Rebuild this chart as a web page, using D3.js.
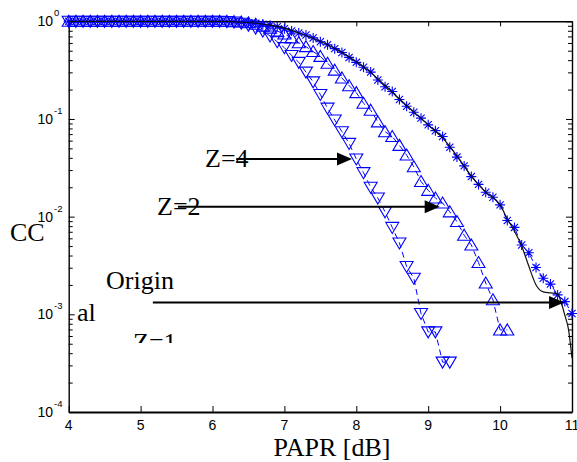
<!DOCTYPE html>
<html><head><meta charset="utf-8">
<script src="https://cdn.jsdelivr.net/npm/d3@7"></script>
<style>html,body{margin:0;padding:0;background:#fff;}svg{display:block;}</style>
</head><body>
<svg id="c" width="577" height="462"></svg>
<script>
// ---- data ----
const papr = [4.0,4.1,4.2,4.3,4.4,4.5,4.6,4.7,4.8,4.9,5.0,5.1,5.2,5.3,5.4,5.5,5.6,5.7,5.8,5.9,6.0,6.1,6.2,6.3,6.4,6.5,6.6,6.7,6.8,6.9,7.0,7.1,7.2,7.3,7.4,7.5,7.6,7.7,7.8,7.9,8.0,8.1,8.2,8.3,8.4,8.5,8.6,8.7,8.8,8.9,9.0,9.1,9.2,9.3,9.4,9.5,9.6,9.7,9.8,9.9,10.0,10.1,10.2,10.3,10.4,10.5,10.6,10.7,10.8,10.9,11.0];
const ccdfOrigin = [1,1,1,1,1,1,1,1,1,1,1,1,1,1,1,1,1,1,1,1,1,1,
  0.995,0.989,0.977,0.966,0.955,0.933,0.912,0.881,0.841,0.794,0.759,0.724,0.676,0.617,0.575,0.525,0.479,0.427,0.380,0.339,0.302,0.251,0.214,0.191,0.158,0.135,0.117,0.102,0.0871,0.0759,0.0661,0.0513,0.0407,0.0331,0.0257,0.0214,0.0178,0.0158,0.0132,0.00912,0.00776,0.00513,0.00427,0.00302,0.00234,0.00204,0.00158,0.00135,0.00102];
const ccdfZ2 = [1,1,1,1,1,1,1,1,1,1,1,1,1,1,1,1,1,1,1,1,1,1,1,
  0.991,0.982,0.966,0.933,0.891,0.851,0.794,0.741,0.676,0.603,0.550,0.490,0.437,0.372,0.316,0.263,0.219,0.186,0.145,0.123,0.0933,0.0741,0.0661,0.0537,0.0427,0.0324,0.0229,0.0186,0.0155,0.0138,0.0112,0.00891,0.00646,0.00513,0.00339,0.00209,0.00141,0.000692,0.000692];
const ccdfZ4 = [1,1,1,1,1,1,1,1,1,1,1,1,1,1,1,1,1,1,1,1,1,1,
  0.993,0.982,0.955,0.912,0.851,0.794,0.708,0.617,0.537,0.447,0.380,0.302,0.240,0.178,0.129,0.0977,0.0741,0.0562,0.0389,0.0282,0.0200,0.0155,0.0112,0.00776,0.00537,0.00309,0.00234,0.00102,0.000661,0.000661,0.000324,0.000324];
const theoryX = [4.0,5.0,6.0,6.2,6.4,6.6,6.8,7.0,7.2,7.4,7.6,7.8,8.0,8.2,8.4,8.6,8.8,9.0,9.2,9.4,9.6,9.8,10.0,10.1,10.2,10.3,10.4,10.5,10.6,10.7,10.8,10.85,10.9,10.95,11.0];
const theoryY = [1,1,1,0.997,0.98,0.955,0.912,0.85,0.76,0.67,0.575,0.48,0.385,0.30,0.22,0.16,0.118,0.087,0.064,0.042,0.026,0.0178,0.0132,0.0095,0.0071,0.00501,0.00310,0.00200,0.0017,0.00166,0.00162,0.00132,0.00098,0.00071,0.000355];
const xTicks = [4,5,6,7,8,9,10,11];
const yExps = [0,-1,-2,-3,-4];
const xTitle = "PAPR [dB]";
const annoLabels = ["Z=4","Z=2","Origin"];
const annoStartX = [6.33,5.52,5.17];
const annoEndX = [7.94,9.16,10.89];
const annoY = [0.039,0.0126,0.00132];

// ---- layout ----
const svg = d3.select("#c");
const x = d3.scaleLinear().domain([4,11]).range([68.7,572]);
const y = d3.scaleLog().domain([1e-4,1]).range([412,21.3]);
const blue = "#0000ff";

const majorY = yExps.map(e => Math.pow(10,e));
const minorY = y.ticks().filter(v => !majorY.some(m => Math.abs(m-v)/v < 1e-6));
function styleAxis(g, w){ g.selectAll("path.domain").attr("stroke","#000").attr("stroke-width",w); g.selectAll("line").attr("stroke","#000").attr("stroke-width",1); g.selectAll("text").remove(); }
svg.append("g").attr("transform","translate(0,412)").call(d3.axisBottom(x).tickValues(xTicks).tickSize(-6).tickSizeOuter(0)).call(g=>styleAxis(g,2));
svg.append("g").attr("transform","translate(0,21.3)").call(d3.axisTop(x).tickValues(xTicks).tickSize(-5).tickSizeOuter(0)).call(g=>styleAxis(g,1.6));
svg.append("g").attr("transform","translate(68.7,0)").call(d3.axisLeft(y).tickValues(majorY).tickSize(-6).tickSizeOuter(0)).call(g=>styleAxis(g,1.4));
svg.append("g").attr("transform","translate(68.7,0)").call(d3.axisLeft(y).tickValues(minorY).tickSize(-4).tickSizeOuter(0)).call(g=>{styleAxis(g,1.4); g.select("path.domain").remove();});
svg.append("g").attr("transform","translate(572,0)").call(d3.axisRight(y).tickValues(majorY).tickSize(-6).tickSizeOuter(0)).call(g=>styleAxis(g,1.4));
svg.append("g").attr("transform","translate(572,0)").call(d3.axisRight(y).tickValues(minorY).tickSize(-4).tickSizeOuter(0)).call(g=>{styleAxis(g,1.4); g.select("path.domain").remove();});

// tick labels
const sans = "Liberation Sans, Arial, sans-serif";
svg.append("g").selectAll("text").data(xTicks).join("text")
  .attr("x",d=>x(d)).attr("y",430).attr("text-anchor","middle")
  .attr("font-family",sans).attr("font-size",14).text(d=>d);
const yl = svg.append("g").selectAll("g").data(yExps).join("g")
  .attr("transform",d=>`translate(53,${y(Math.pow(10,d))+5})`);
yl.append("text").attr("text-anchor","end").attr("font-family",sans).attr("font-size",14).text("10");
yl.append("text").attr("x",1).attr("y",-10).attr("font-family",sans).attr("font-size",9.5).text(d=>String(d));

// series
function series(vals, marker){
  const pts = vals.map((v,i)=>[papr[i],v]);
  svg.append("path").datum(pts).attr("fill","none").attr("stroke",blue).attr("stroke-width",1)
    .attr("stroke-dasharray","6,4").attr("d",d3.line().x(d=>x(d[0])).y(d=>y(d[1])));
  svg.append("g").selectAll("path").data(pts).join("path")
    .attr("transform",d=>`translate(${x(d[0])},${y(d[1])})`)
    .attr("d",marker).attr("fill","none").attr("stroke",blue).attr("stroke-width",1.1);
}
const triUp = "M0,-6L6.5,5L-6.5,5Z";
const triDown = "M0,6L6.5,-5L-6.5,-5Z";
const star = "M-5,0H5M0,-5V5M-3.6,-3.6L3.6,3.6M-3.6,3.6L3.6,-3.6";
series(ccdfZ4, triDown);
series(ccdfZ2, triUp);
series(ccdfOrigin, star);

// theory line
svg.append("path").datum(theoryX.map((v,i)=>[v,theoryY[i]])).attr("fill","none").attr("stroke","#111").attr("stroke-width",1.2)
  .attr("d",d3.line().curve(d3.curveMonotoneX).x(d=>x(d[0])).y(d=>y(d[1])));

// annotations
const serif = "Liberation Serif, Times New Roman, serif";
const textPos = [[205,167],[157,215],[106,289]];
annoLabels.forEach((t,i)=>{
  svg.append("text").attr("x",textPos[i][0]).attr("y",textPos[i][1]).attr("font-family",serif).attr("font-size",26).text(t);
});
annoLabels.forEach((t,i)=>{
  const yy = y(annoY[i]), x0 = x(annoStartX[i]), x1 = x(annoEndX[i]);
  svg.append("line").attr("x1",x0).attr("x2",x1-10).attr("y1",yy).attr("y2",yy).attr("stroke","#000").attr("stroke-width",2);
  svg.append("path").attr("d",`M${x1},${yy}L${x1-15},${yy-6.5}L${x1-15},${yy+6.5}Z`).attr("fill","#000");
});
svg.append("text").attr("x",10).attr("y",241).attr("font-family",serif).attr("font-size",26).text("CC");
svg.append("text").attr("x",77).attr("y",321).attr("font-family",serif).attr("font-size",26).text("al");
svg.append("clipPath").attr("id","zc").append("rect").attr("x",100).attr("y",320).attr("width",120).attr("height",23);
svg.append("text").attr("x",133).attr("y",351).attr("font-family",serif).attr("font-size",26).attr("clip-path","url(#zc)").text("Z=1");

svg.append("text").attr("x",332).attr("y",456).attr("text-anchor","middle").attr("font-family",serif).attr("font-size",26).text(xTitle);
</script>
</body></html>
